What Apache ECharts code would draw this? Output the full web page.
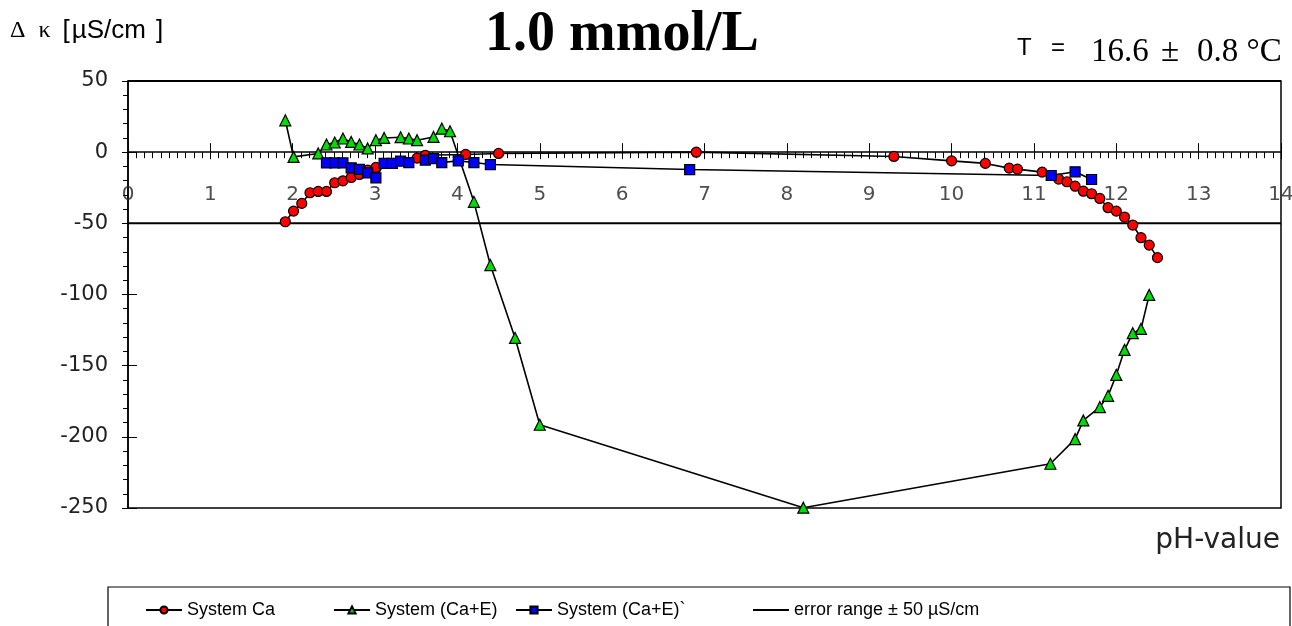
<!DOCTYPE html>
<html>
<head>
<meta charset="utf-8">
<script src="https://cdn.jsdelivr.net/npm/echarts@6/dist/echarts.min.js"></script>
<style>
  html, body { margin: 0; padding: 0; background: #ffffff; }
  #chart { width: 1292px; height: 626px; }
</style>
</head>
<body>
<div id="chart"></div>
<script>
// Conductivity difference Δκ versus pH for the three systems (1.0 mmol/L)
const seriesNames = ['System Ca', 'System (Ca+E)', 'System (Ca+E)`', 'error range \u00b1 50 \u00b5S/cm'];

const phTickLabels = ['0', '1', '2', '3', '4', '5', '6', '7', '8', '9', '10', '11', '12', '13', '14'];

const systemCa = [
  [1.91, -48.9], [2.01, -41.4], [2.11, -36.0], [2.21, -28.5], [2.31, -27.6],
  [2.41, -27.6], [2.51, -21.5], [2.61, -20.1], [2.71, -17.8], [2.81, -15.7],
  [2.91, -12.6], [3.01, -10.7], [3.51, -4.2], [3.61, -2.2], [4.10, -1.6],
  [4.50, -0.9], [6.90, 0.0], [9.30, -3.0], [10.00, -6.1], [10.41, -7.9],
  [10.70, -11.2], [10.80, -11.9], [11.10, -14.0], [11.30, -18.9], [11.40, -20.8],
  [11.50, -23.9], [11.60, -27.4], [11.70, -29.2], [11.80, -32.5], [11.90, -39.0],
  [12.00, -41.4], [12.10, -45.6], [12.20, -51.2], [12.30, -60.1], [12.40, -65.3],
  [12.50, -74.1]
];

const systemCaE = [
  [1.91, 22.4], [2.01, -3.3], [2.31, -0.9], [2.41, 5.4], [2.51, 6.8],
  [2.61, 9.6], [2.71, 7.2], [2.81, 5.4], [2.91, 2.6], [3.01, 8.4],
  [3.11, 10.0], [3.31, 10.5], [3.41, 9.6], [3.51, 8.4], [3.71, 10.7],
  [3.81, 16.6], [3.91, 14.7], [4.20, -34.9], [4.40, -79.3], [4.70, -130.5],
  [5.00, -191.5], [8.20, -249.8], [11.20, -218.9], [11.50, -201.6], [11.60, -188.5],
  [11.80, -179.1], [11.90, -171.2], [12.00, -156.5], [12.10, -138.9], [12.20, -127.2],
  [12.30, -124.2], [12.40, -100.3]
];

const systemCaE2 = [
  [2.41, -7.5], [2.51, -7.5], [2.61, -7.5], [2.71, -11.0], [2.81, -12.1],
  [2.91, -14.5], [3.01, -18.0], [3.11, -7.9], [3.21, -7.9], [3.31, -6.3],
  [3.41, -7.3], [3.61, -5.6], [3.71, -4.5], [3.81, -7.3], [4.01, -6.1],
  [4.20, -7.3], [4.40, -8.7], [6.82, -12.2], [11.21, -16.4], [11.50, -13.8],
  [11.70, -19.2]
];

const errorLower = [[0, -50], [14, -50]];
const errorUpper = [[0, 50], [14, 50]];

const phRange = [0, 14];
const kappaRange = [-250, 50];

const chart = echarts.init(document.getElementById('chart'), null, { renderer: 'canvas' });

const tickFont = 'DejaVu Sans, sans-serif';
const sansFont = 'Liberation Sans, Arial, sans-serif';
const serifFont = 'Liberation Serif, Times New Roman, serif';

function markerSeries(name, data, symbol, color, size) {
  return {
    name: name,
    type: 'line',
    data: data,
    symbol: symbol,
    symbolSize: size,
    showAllSymbol: true,
    lineStyle: { color: '#000', width: 1.6 },
    itemStyle: { color: color, borderColor: '#000', borderWidth: 1.2 },
    emphasis: { disabled: true }
  };
}

// one legend block per entry so each sits at its own place in the framed row
function legendEntry(name, left, icon) {
  const item = icon ? { name: name, icon: icon } : { name: name };
  return {
    left: left, top: 596,
    itemWidth: 36, itemHeight: 9, itemGap: 6,
    data: [item],
    textStyle: { color: '#000', fontSize: 18, fontFamily: sansFont },
    selectedMode: false
  };
}

chart.setOption({
  backgroundColor: '#ffffff',
  animation: false,
  grid: {
    left: 128, right: 11, top: 81, bottom: 118,
    show: true, borderColor: '#000', borderWidth: 1.5, backgroundColor: 'transparent'
  },
  xAxis: [
    {
      type: 'value', min: phRange[0], max: phRange[1], interval: 1,
      position: 'bottom',
      axisLine: { show: true, onZero: true, lineStyle: { color: '#000', width: 1.5 } },
      axisTick: { show: true, length: 7, lineStyle: { color: '#000', width: 1 } },
      minorTick: { show: true, splitNumber: 10, length: 6, lineStyle: { color: '#000', width: 1 } },
      axisLabel: { show: false },
      splitLine: { show: false }
    },
    {
      type: 'value', min: phRange[0], max: phRange[1], interval: 1,
      position: 'top',
      axisLine: { show: false, onZero: true },
      axisTick: { show: true, length: 9, lineStyle: { color: '#000', width: 1 } },
      axisLabel: { show: false },
      splitLine: { show: false }
    }
  ],
  yAxis: [
    {
      type: 'value', min: kappaRange[0], max: kappaRange[1], interval: 50,
      position: 'left',
      axisLine: { show: true, onZero: true, lineStyle: { color: '#000', width: 1.5 } },
      axisTick: { show: true, length: 6, lineStyle: { color: '#000', width: 1 } },
      minorTick: { show: true, splitNumber: 5, length: 5, lineStyle: { color: '#000', width: 1 } },
      axisLabel: { show: true, margin: 20, color: '#222', fontSize: 21, fontFamily: tickFont },
      splitLine: { show: false }
    },
    {
      type: 'value', min: kappaRange[0], max: kappaRange[1], interval: 50,
      position: 'right',
      axisLine: { show: false, onZero: true },
      axisTick: { show: true, length: 9, lineStyle: { color: '#000', width: 1 } },
      axisLabel: { show: false },
      splitLine: { show: false }
    }
  ],
  legend: [
    legendEntry(seriesNames[0], 140),
    legendEntry(seriesNames[1], 328),
    legendEntry(seriesNames[2], 510),
    legendEntry(seriesNames[3], 748, 'path://M0,0L36,0L36,2L0,2Z')
  ],
  series: [
    {
      name: seriesNames[3], type: 'line', data: errorLower, symbol: 'none',
      lineStyle: { color: '#000', width: 2 }, itemStyle: { color: '#000' },
      emphasis: { disabled: true }, z: 1
    },
    {
      name: seriesNames[3], type: 'line', data: errorUpper, symbol: 'none',
      lineStyle: { color: '#000', width: 2 }, itemStyle: { color: '#000' },
      emphasis: { disabled: true }, z: 1
    },
    markerSeries(seriesNames[0], systemCa, 'circle', '#ff0000', 10),
    markerSeries(seriesNames[1], systemCaE, 'triangle', '#00dd00', 11),
    markerSeries(seriesNames[2], systemCaE2, 'rect', '#0000ff', 10),
    {
      // pH tick labels hang below the zero line, placed by the x scale
      name: 'pH ticks', type: 'scatter', xAxisIndex: 0, yAxisIndex: 0,
      data: phTickLabels.map(function (t) { return { name: t, value: [Number(t), 0] }; }),
      symbolSize: 0, silent: true, z: 5,
      label: {
        show: true, position: 'bottom', distance: 33,
        formatter: function (p) { return p.name; },
        color: '#222', fontSize: 20, fontFamily: tickFont
      }
    }
  ],
  graphic: [
    {
      type: 'rect', shape: { x: 108, y: 587, width: 1182, height: 60 },
      style: { fill: 'none', stroke: '#000', lineWidth: 1.2 }, silent: true, z: -1
    },
    {
      type: 'text', x: 10, y: 31,
      style: {
        text: '{g|\u0394}{k|\u03ba}{b|[}{u|\u00b5S/cm}{b|]}',
        font: '26px ' + sansFont, fill: '#000',
        verticalAlign: 'middle',
        rich: {
          g: { fontFamily: serifFont, fontSize: 24, padding: [0, 13, 0, 0] },
          k: { fontFamily: serifFont, fontSize: 24, padding: [0, 12, 0, 0] },
          b: { fontFamily: sansFont, fontSize: 26 },
          u: { fontFamily: sansFont, fontSize: 26, padding: [0, 10, 0, 2] }
        }
      }
    },
    {
      type: 'text', x: 622, y: 36,
      style: {
        text: '1.0 mmol/L', font: 'bold 56px ' + serifFont,
        fill: '#000', align: 'center', verticalAlign: 'middle'
      }
    },
    {
      type: 'text', x: 1017, y: 48,
      style: { text: 'T', font: '24px ' + sansFont, fill: '#000', verticalAlign: 'middle' }
    },
    {
      type: 'text', x: 1051, y: 48,
      style: { text: '=', font: '24px ' + sansFont, fill: '#000', verticalAlign: 'middle' }
    },
    {
      type: 'text', x: 1091, y: 52,
      style: { text: '16.6', font: '33px ' + serifFont, fill: '#000', verticalAlign: 'middle' }
    },
    {
      type: 'text', x: 1161, y: 52,
      style: { text: '\u00b1', font: '33px ' + serifFont, fill: '#000', verticalAlign: 'middle' }
    },
    {
      type: 'text', x: 1197, y: 52,
      style: { text: '0.8 \u00b0C', font: '33px ' + serifFont, fill: '#000', verticalAlign: 'middle' }
    },
    {
      type: 'text', x: 1280, y: 541,
      style: {
        text: 'pH-value', font: '28px ' + tickFont, fill: '#222',
        align: 'right', verticalAlign: 'middle'
      }
    }
  ]
});
</script>
</body>
</html>
